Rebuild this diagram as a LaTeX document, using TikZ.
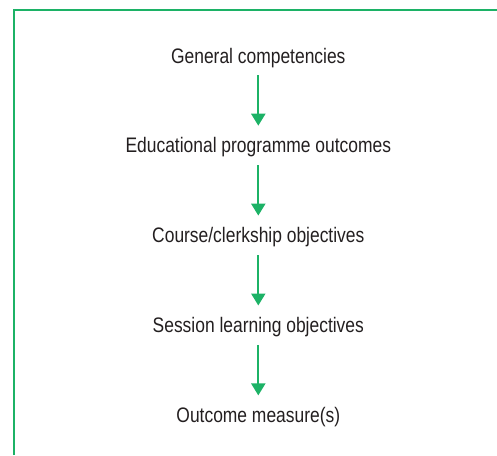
\documentclass[tikz,border=0pt]{standalone}
\usepackage{fontspec}
\setmainfont{Liberation Sans}[FakeStretch=0.83]
\usepackage{tikz}
\usetikzlibrary{arrows.meta}

\definecolor{framegreen}{RGB}{28,178,102}
\definecolor{textgrey}{RGB}{35,31,32}

\begin{document}
\begin{tikzpicture}[x=1pt, y=-1pt,
    level/.style={inner sep=0pt, text height=15pt, text depth=4pt,
      text=textgrey, font=\fontsize{21}{25}\selectfont},
    flow/.style={draw=framegreen, line width=2.2pt,
      -{Triangle[length=12pt,width=14pt]},
      shorten <=8pt, shorten >=12pt}]
      \def \cx {258.3}
      \def \top {63}
      \def \gap {89.9}

      \useasboundingbox (0,0) rectangle (497,455);

      % frame, only left and top edges show
      \draw[framegreen, line width=2.6pt] (14,455) -- (14,10) -- (497,10);

      \foreach \s/\t in {1/{General competencies},
                         2/{Educational programme outcomes},
                         3/{Course/clerkship objectives},
                         4/{Session learning objectives},
                         5/{Outcome measure(s)}}
      {
        \node[level, anchor=base](l\s) at (\cx, {\top + \gap*(\s-1)}) {\t};
      }
      \foreach \s [evaluate=\s as \n using int(\s+1)] in {1,...,4}
      {
        \draw[flow] (l\s.south) -- (l\n.north);
      }
    \end{tikzpicture}
\end{document}
